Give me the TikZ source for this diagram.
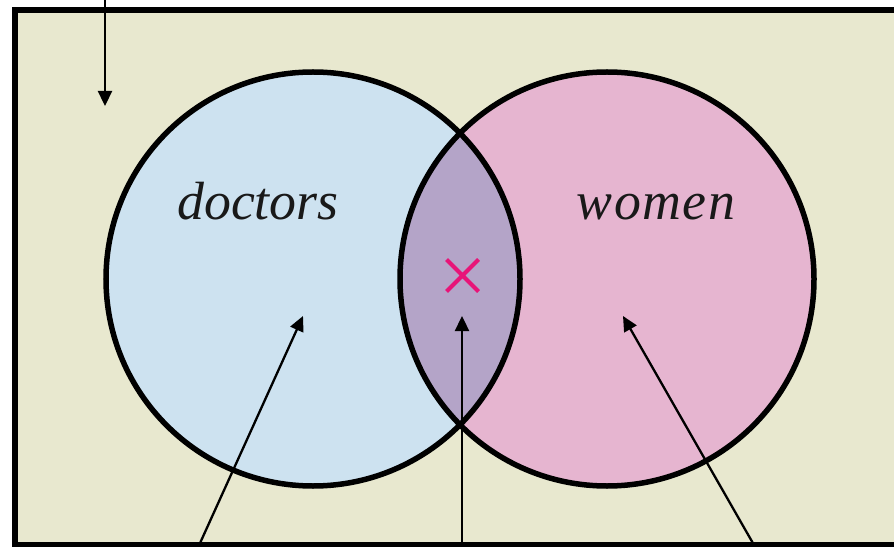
\documentclass[tikz,border=0pt]{standalone}
\usepackage{fontspec}
\setmainfont{Liberation Serif}
\usetikzlibrary{arrows.meta}
\definecolor{bgbeige}{RGB}{232,232,207}
\definecolor{docblue}{RGB}{205,226,240}
\definecolor{wompink}{RGB}{230,181,208}
\definecolor{bothpurple}{RGB}{180,164,200}
\definecolor{markred}{RGB}{232,20,120}
\begin{document}
\begin{tikzpicture}[x=1bp, y=-1bp,
      set/.style={line width=5.5bp},
      arr/.style={-{Triangle[length=15bp,width=14bp]}, line width=2.3bp},
      lbl/.style={font=\fontsize{54}{60}\selectfont\itshape, text=black!90, anchor=base},
      xmark/.style={draw=markred, line width=4bp}
    ]
      \useasboundingbox (0,0) rectangle (894,547);
      \fill[white] (0,0) rectangle (894,547);
      \fill[bgbeige] (15,10.5) rectangle (900,544.5);
      \draw[line width=6bp] (900,10.5) -- (15,10.5) -- (15,544.5) -- (900,544.5);

      % the two sets
      \coordinate (dc) at (313,279);
      \coordinate (wc) at (607,279);
      \fill[docblue] (dc) circle (207bp);
      \fill[wompink] (wc) circle (207bp);
      \begin{scope}
        \clip (dc) circle (207bp);
        \fill[bothpurple] (wc) circle (207bp);
      \end{scope}
      \draw[set] (dc) circle (207bp) (wc) circle (207bp);

      \node[lbl] (doctors) at (258,220) {doctors};
      \node[lbl] (women) at (656,220) {\addfontfeature{LetterSpace=3}women};

      \coordinate (both) at (462.5,275.5);
      \draw[xmark] (both) +(-16,-16) -- +(16,16) +(-16,16) -- +(16,-16);

      % pointers
      \coordinate (outside) at (105,106);
      \coordinate (onlydoc) at (303,316);
      \coordinate (docwom) at (462,316);
      \coordinate (onlywom) at (623,316);
      \coordinate (outsidefoot) at (105,-5);
      \coordinate (onlydocfoot) at (196,552);
      \coordinate (docwomfoot) at (462,552);
      \coordinate (onlywomfoot) at (758,552);
      \draw[arr] (outsidefoot) -- (outside);
      \draw[arr] (onlydocfoot) -- (onlydoc);
      \draw[arr] (docwomfoot) -- (docwom);
      \draw[arr] (onlywomfoot) -- (onlywom);
    \end{tikzpicture}
\end{document}
